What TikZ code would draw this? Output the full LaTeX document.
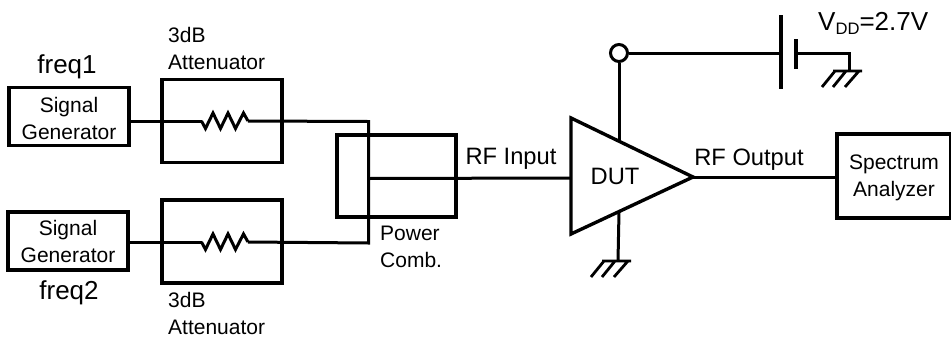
\documentclass[tikz,border=0pt]{standalone}
\usepackage{fontspec}
\setmainfont{Liberation Sans}
\usetikzlibrary{positioning}
\tikzset{
  blockbox/.style={draw,line width=3.4pt,inner sep=0pt,align=center,font=\fontsize{21}{27}\selectfont},
  wire/.style={line width=3pt},
  txtlabel/.style={inner sep=0pt,align=left,font=\fontsize{21}{27}\selectfont},
  biglabel/.style={inner sep=0pt,font=\fontsize{26}{30}\selectfont},
  rflabel/.style={inner sep=0pt,font=\fontsize{23.7}{28}\selectfont},
  zigzag/.pic={\draw[wire,line join=miter] (0,0) -- (4,7.5) -- (11.5,-8) -- (19,7.5) -- (26.5,-8) -- (34,7.5) -- (42,-8) -- (46.5,0);},
  earth/.pic={\draw[line width=2.8pt] (-16,0) -- (13,0)
      (-14,0) -- (-27,16) (-3,0) -- (-16,16) (10,0) -- (-4,16) ;}
}
\begin{document}
\begin{tikzpicture}[x=1pt,y=-1pt]
\useasboundingbox (0,0) rectangle (951,338);
% blocks
\node[blockbox,minimum width=120pt,minimum height=58pt] (gen1) at (69,116.5) {\rule{0pt}{19pt}Signal\\Generator};
\node[blockbox,minimum width=120pt,minimum height=58pt] (gen2) at (68,241) {Signal\\Generator};
\node[blockbox,minimum width=120pt,minimum height=83pt] (att1) at (222,121) {};
\node[blockbox,minimum width=120pt,minimum height=83pt] (att2) at (222,241.5) {};
\node[blockbox,minimum width=119pt,minimum height=82pt] (comb) at (396.5,176) {};
\node[blockbox,minimum width=114pt,minimum height=84pt] (spec) at (894,176) {\rule{0pt}{19pt}Spectrum\\Analyzer};
% labels
\node[biglabel] (f1) at (67,67) {freq1};
\node[biglabel] (f2) at (69,293) {freq2};
\node[txtlabel,anchor=north west] (att1lab) at (168,27) {3dB\\Attenuator};
\node[txtlabel,anchor=north west] (att2lab) at (168,292.5) {3dB\\Attenuator};
\node[txtlabel,anchor=north west] (comblab) at (380,226) {Power\\Comb.};
\node[rflabel] (rfin) at (511,159) {RF Input};
\node[rflabel] (rfout) at (749,160) {RF Output};
\node[rflabel] (dutlab) at (615,176) {DUT};
\node[biglabel,anchor=west] (vdd) at (818,23) {V\raisebox{-4pt}{\fontsize{16.6}{18}\selectfont DD}=2.7V};
% amplifier
\coordinate (dutA) at (571,118);
\coordinate (dutB) at (571,234);
\coordinate (dutO) at (693,177);
\coordinate (dutIn) at (571,178);
\coordinate (dutT) at (619,140);
\coordinate (dutG) at (619,212);
\draw[line width=3.4pt,line join=miter] (dutA) -- (dutO) -- (dutB) -- cycle;
% resistors
\coordinate (r1a) at (201.5,121);
\coordinate (r1b) at (248,121);
\coordinate (r2a) at (201.5,242);
\coordinate (r2b) at (248,242);
\pic at (r1a) {zigzag};
\pic at (r2a) {zigzag};
% combiner wiring
\coordinate (c1) at (368.5,121.5);
\coordinate (c2) at (368.5,243);
\coordinate (cj) at (368.5,178.5);
\draw[wire] (gen1.east |- r1a) -- (r1a);
\draw[wire] (gen2.east |- r2a) -- (r2a);
\draw[wire] (r1b) -- (c1) -- (c2) -- (r2b);
\draw[wire] (cj) -- (dutIn);
\draw[wire] (dutO) -- (spec.west |- dutO);
% supply
\node[draw,circle,line width=3pt,minimum size=17pt,inner sep=0pt] (vnode) at (619,53) {};
\coordinate (platA) at (781,53);
\coordinate (platB) at (796,53);
\coordinate (gndA) at (849,53);
\coordinate (gndB) at (849,71);
\coordinate (gndC) at (618,261);
\draw[wire] (vnode) -- (dutT);
\draw[wire] (vnode) -- (platA);
\draw[line width=3.2pt] (781,15) -- (781,89);
\draw[line width=3.2pt] (796,39) -- (796,69);
\draw[wire] (platB) -- (gndA) -- (gndB);
\draw[wire] (dutG) -- (gndC);
\pic at (gndB) {earth};
\pic at (gndC) {earth};
\end{tikzpicture}
\end{document}
